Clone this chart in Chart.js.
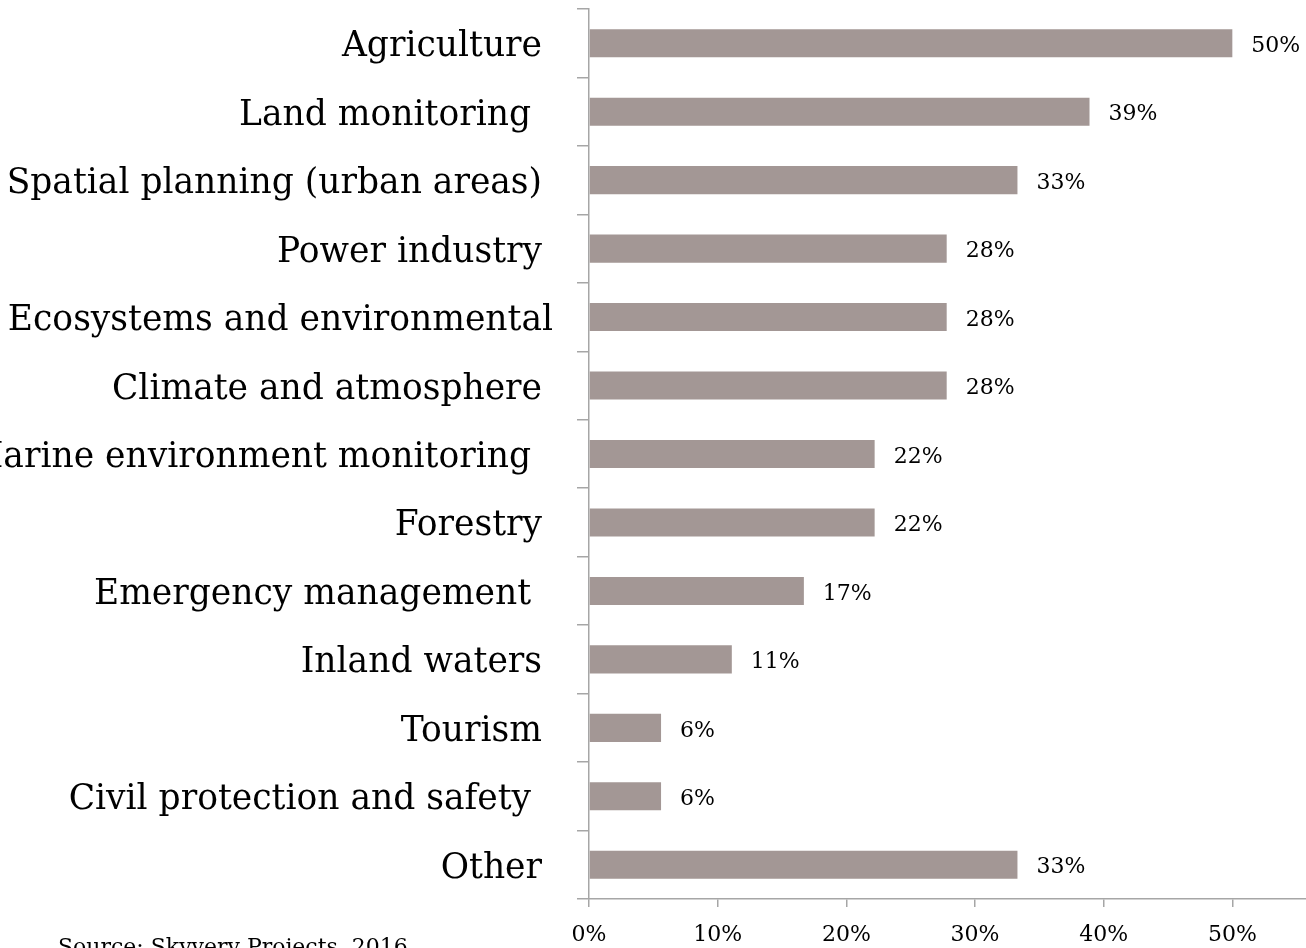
<!DOCTYPE html>
<html>
<head>
<meta charset="utf-8">
<script src="https://cdn.jsdelivr.net/npm/chart.js@4/dist/chart.umd.min.js"></script>
<style>
  html, body { margin: 0; padding: 0; background: #fff; overflow: hidden; }
  #wrap { position: relative; width: 1306px; height: 948px; overflow: hidden; }
  #box { position: absolute; left: 0; top: 0; width: 1420px; height: 1000px; }
  #source {
    position: absolute; left: 58px; top: 934px;
    font: 22px "DejaVu Serif", serif; color: #000; white-space: nowrap;
  }
</style>
</head>
<body>
<div id="wrap">
  <div id="box"><canvas id="chart"></canvas></div>
  <div id="source">Source: Skyvery Projects, 2016</div>
</div>
<script>
// sectors, share of respondents (%)
const sectors = [
  'Agriculture ',
  'Land monitoring  ',
  'Spatial planning (urban areas) ',
  'Power industry ',
  'Ecosystems and environmental',
  'Climate and atmosphere ',
  'Marine environment monitoring  ',
  'Forestry ',
  'Emergency management  ',
  'Inland waters ',
  'Tourism ',
  'Civil protection and safety  ',
  'Other '
];
const shares = [50, 38.9, 33.3, 27.8, 27.8, 27.8, 22.2, 22.2, 16.7, 11.1, 5.6, 5.6, 33.3];
const xTicks = [0, 10, 20, 30, 40, 50, 60];

const serif = '"DejaVu Serif", serif';
const axisGrey = '#a6a6a6';

// value labels to the right of each bar
const valueLabels = {
  id: 'valueLabels',
  afterDatasetsDraw(chart) {
    const ctx = chart.ctx;
    const meta = chart.getDatasetMeta(0);
    ctx.save();
    ctx.font = '22px ' + serif;
    ctx.fillStyle = '#000';
    ctx.textAlign = 'left';
    ctx.textBaseline = 'middle';
    meta.data.forEach((bar, i) => {
      ctx.fillText(Math.round(shares[i]) + '%', bar.x + 19, bar.y + 3);
    });
    ctx.restore();
  }
};

new Chart(document.getElementById('chart'), {
  type: 'bar',
  data: {
    labels: sectors,
    datasets: [{
      data: shares,
      backgroundColor: '#a39795',
      borderWidth: 0,
      categoryPercentage: 1,
      barPercentage: 0.41
    }]
  },
  options: {
    indexAxis: 'y',
    responsive: true,
    maintainAspectRatio: false,
    animation: false,
    layout: { padding: { left: 0, right: 59, top: 9, bottom: 0 } },
    plugins: {
      legend: { display: false },
      tooltip: { enabled: false }
    },
    scales: {
      x: {
        min: 0,
        max: 60,
        afterBuildTicks: (scale) => { scale.ticks = xTicks.map(v => ({ value: v })); },
        afterFit: (scale) => { scale.height = 101; },
        border: { color: axisGrey, width: 1.5 },
        grid: { drawOnChartArea: false, tickLength: 8, color: axisGrey, lineWidth: 1.5 },
        ticks: {
          padding: 15,
          color: '#000',
          font: { family: serif, size: 22 },
          maxRotation: 0,
          callback: (v) => v + '%'
        }
      },
      y: {
        afterFit: (scale) => {
          scale.width = 589;
          scale.paddingTop = 0;
          scale.paddingBottom = 0;
        },
        border: { color: axisGrey, width: 1.5 },
        grid: { drawOnChartArea: false, offset: true, tickLength: 12, color: axisGrey, lineWidth: 1.5 },
        ticks: {
          padding: 24,
          labelOffset: 4,
          color: '#000',
          font: { family: serif, size: 34.5 }
        }
      }
    }
  },
  plugins: [valueLabels]
});
</script>
</body>
</html>
